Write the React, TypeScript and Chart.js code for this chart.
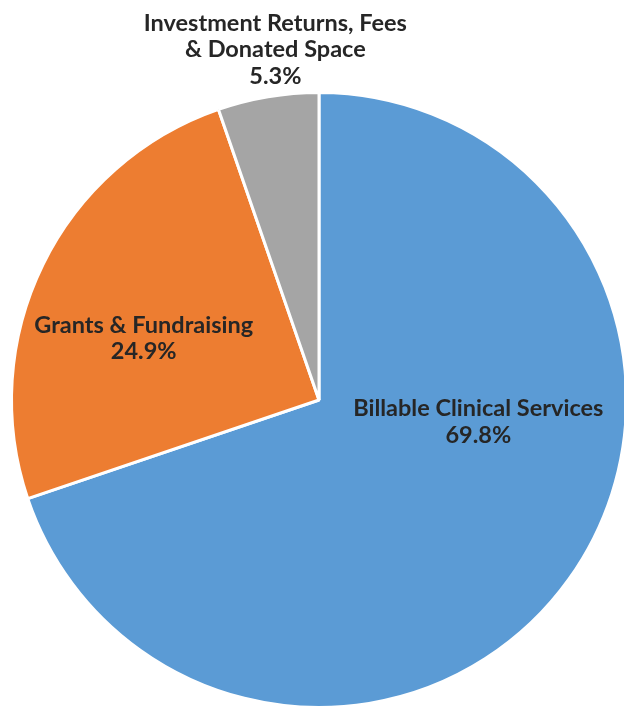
import React, { useEffect, useRef } from "react";
import { Chart, registerables } from "chart.js";

Chart.register(...registerables);

const categories: string[][] = [
  ["Billable Clinical Services"],
  ["Grants & Fundraising"],
  ["Investment Returns, Fees", "& Donated Space"],
];
const shares: number[] = [69.8, 24.9, 5.3];
const colors: string[] = ["#5B9BD5", "#ED7D31", "#A5A5A5"];

// label anchor offsets relative to pie center, in units of radius
const labelAnchors: [number, number][] = [
  [0.518, 0.071],
  [-0.57, -0.2],
  [-0.142, -1.139],
];

const labelPlugin = {
  id: "sliceLabels",
  afterDraw(chart: any) {
    const ctx = chart.ctx;
    const meta = chart.getDatasetMeta(0);
    const arc0 = meta.data[0];
    if (!arc0) return;
    const cx = arc0.x;
    const cy = arc0.y;
    const r = arc0.outerRadius;
    ctx.save();
    ctx.fillStyle = "#262626";
    ctx.font = "bold 23.5px Lato";
    ctx.textAlign = "center";
    ctx.textBaseline = "middle";
    const lh = 26.5;
    categories.forEach((lines, i) => {
      const all = [...lines, shares[i].toFixed(1) + "%"];
      const ax = cx + labelAnchors[i][0] * r;
      const ay = cy + labelAnchors[i][1] * r;
      const startY = ay - ((all.length - 1) * lh) / 2;
      all.forEach((t, j) => ctx.fillText(t, ax, startY + j * lh));
    });
    ctx.restore();
  },
};

export default function App() {
  const ref = useRef<HTMLCanvasElement>(null);
  useEffect(() => {
    if (!ref.current) return;
    const chart = new Chart(ref.current, {
      type: "pie",
      data: {
        labels: categories.map((c) => c.join(" ")),
        datasets: [
          {
            data: shares,
            backgroundColor: colors,
            borderColor: "#ffffff",
            borderWidth: 3,
          },
        ],
      },
      options: {
        responsive: false,
        animation: false,
        layout: { padding: { left: 10, right: 12, top: 91, bottom: 11 } },
        plugins: { legend: { display: false }, tooltip: { enabled: false } },
      },
      plugins: [labelPlugin],
    });
    return () => chart.destroy();
  }, []);
  return (
    <div
      style={{
        position: "fixed",
        left: 0,
        top: 0,
        width: 624,
        height: 707,
        overflow: "hidden",
        background: "#fff",
      }}
    >
      <canvas ref={ref} width={640} height={720} style={{ width: 640, height: 720, display: "block" }} />
    </div>
  );
}
